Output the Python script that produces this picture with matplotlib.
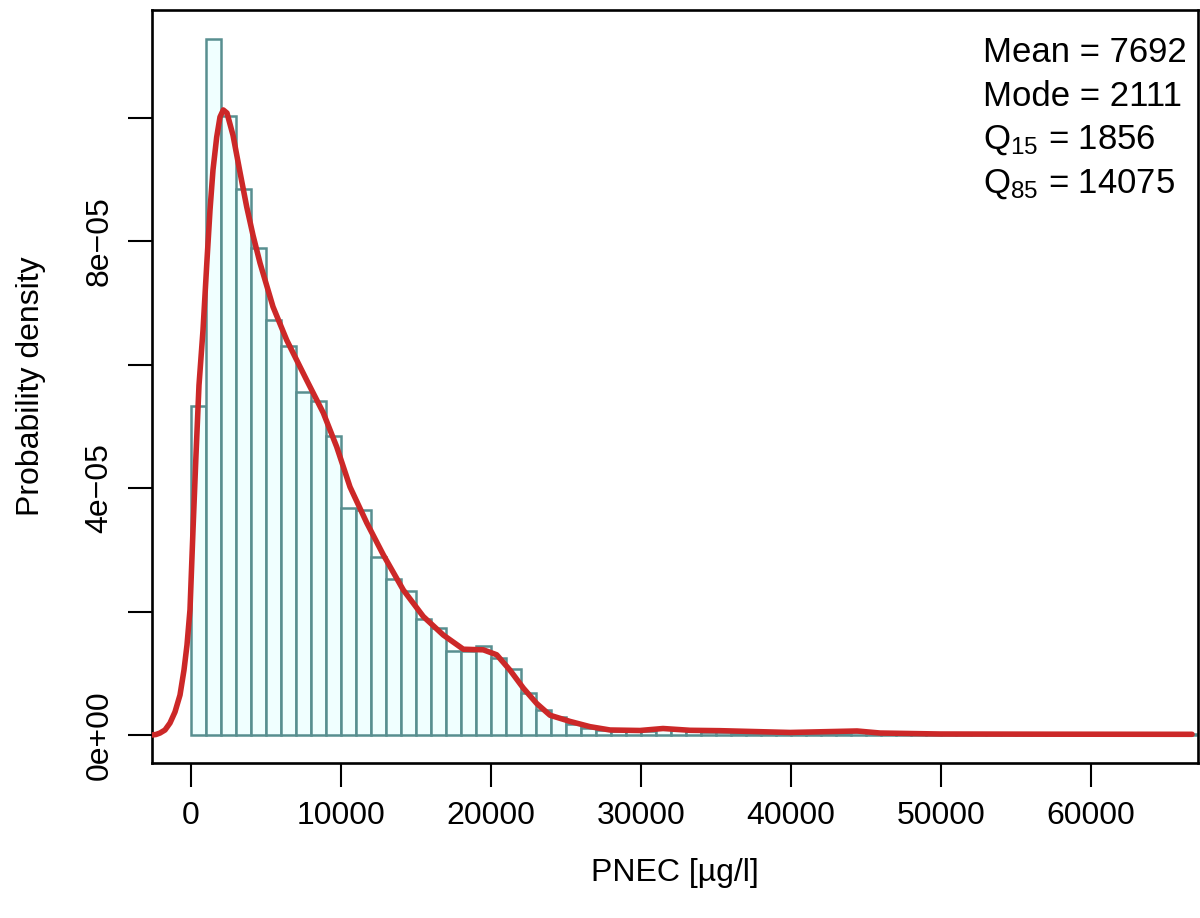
import numpy as np
import matplotlib
matplotlib.use("Agg")
import matplotlib.pyplot as plt

plt.rcParams['font.family'] = ['Liberation Sans', 'DejaVu Sans']
plt.rcParams['mathtext.fontset'] = 'custom'
plt.rcParams['mathtext.rm'] = 'Liberation Sans'
plt.rcParams['mathtext.it'] = 'Liberation Sans'

# ---- data ----
bin_width = 1000
bin_left = list(range(0, 67000, 1000))
hist_density = [
    5.33e-5, 1.128e-4, 1.003e-4, 8.85e-5, 7.89e-5, 6.73e-5, 6.30e-5, 5.56e-5,
    5.41e-5, 4.85e-5, 3.68e-5, 3.65e-5, 2.88e-5, 2.53e-5, 2.33e-5, 1.88e-5,
    1.73e-5, 1.36e-5, 1.36e-5, 1.44e-5, 1.25e-5, 1.07e-5, 6.8e-6, 4.1e-6,
    2.9e-6, 1.8e-6, 1.1e-6, 8e-7,
    6e-7, 6e-7, 7e-7, 9e-7, 8e-7, 6e-7, 5e-7, 5e-7,
    4e-7, 4e-7, 4e-7, 4e-7, 3e-7, 3e-7, 3e-7, 3e-7,
    5e-7, 5e-7,
    2e-7, 2e-7, 2e-7, 1.5e-7, 1.5e-7, 1.5e-7, 1.5e-7, 1.5e-7, 1e-7, 1e-7,
    1e-7, 1e-7, 1e-7, 1e-7, 1e-7, 1e-7, 1e-7, 1e-7, 1e-7, 1e-7, 1e-7,
]

kde_x = [-2600, -2333, -2067, -1733, -1400, -1067, -733, -467, -267, -67,
         133, 333, 533, 800, 1067, 1267, 1467, 1713, 1933, 2153, 2400, 2800,
         3267, 3713, 4133, 4600, 5467, 6380, 7713, 8820, 9713, 10600,
         11713, 12820, 14153, 15487, 16820, 18153, 19487, 20380, 21267, 22153,
         23047, 23933, 25267, 26600, 27933, 29933, 31467, 33267, 35267, 39933,
         44400, 45933, 49933, 57267, 66733]
kde_y = [0.0, 8e-8, 3.2e-7, 8.1e-7, 1.94e-6, 3.73e-6, 6.48e-6, 1.053e-5,
         1.459e-5, 2.03e-5, 3.32e-5, 4.54e-5, 5.67e-5, 6.56e-5, 7.70e-5,
         8.51e-5, 9.16e-5, 9.69e-5, 1.0016e-4, 1.013e-4, 1.008e-4, 9.72e-5,
         9.12e-5, 8.56e-5, 8.10e-5, 7.65e-5, 6.94e-5, 6.40e-5, 5.75e-5,
         5.22e-5, 4.67e-5, 4.02e-5, 3.44e-5, 2.92e-5, 2.35e-5, 1.92e-5,
         1.62e-5, 1.39e-5, 1.38e-5, 1.30e-5, 1.05e-5, 7.6e-6, 5.1e-6, 3.2e-6,
         2.2e-6, 1.35e-6, 8.1e-7, 7.3e-7, 1.05e-6, 7.6e-7, 7.0e-7, 4.1e-7,
         6.5e-7, 3.2e-7, 1.6e-7, 1.3e-7, 1.1e-7]

yticks = [0, 2e-5, 4e-5, 6e-5, 8e-5, 1e-4]
ytick_labels = ["0e+00", "", "4e\u221205", "", "8e\u221205", ""]
xticks = [0, 10000, 20000, 30000, 40000, 50000, 60000]
xtick_labels = ["0", "10000", "20000", "30000", "40000", "50000", "60000"]

sp = " = "
stats_lines = ["Mean" + sp + "7692", "Mode" + sp + "2111",
               r"$\mathregular{Q_{15}}$" + sp + "1856",
               r"$\mathregular{Q_{85}}$" + sp + "14075"]

# ---- plot ----
fig = plt.figure(figsize=(12, 9.18), dpi=100)
ax = fig.add_axes([152/1200, 1-763/918, (1198-152)/1200, (763-10)/918])

ax.bar(bin_left, hist_density, width=bin_width, align='edge',
       color='#f0ffff', edgecolor='#588f90', linewidth=1.8, zorder=2)
ax.plot(kde_x, kde_y, color='#cc2828', linewidth=4.0, solid_capstyle='round',
        solid_joinstyle='round', zorder=3)

ax.set_xlim(-2600, 67130)
ax.set_ylim(-4.54e-6, 1.175e-4)

for s in ax.spines.values():
    s.set_linewidth(1.9)

ax.set_xticks(xticks)
ax.set_xticklabels(xtick_labels, fontsize=23)
ax.set_yticks(yticks)
ax.set_yticklabels(ytick_labels, fontsize=23, rotation=90, va='center')
ax.tick_params(axis='both', direction='out', length=17, width=1.5, pad=10)

ax.set_xlabel("PNEC [\u00b5g/l]", fontsize=23, labelpad=20)
ax.set_ylabel("Probability density", fontsize=23, labelpad=28)

for i, line in enumerate(stats_lines):
    ax.text(983/1200, 1-(52+44*i)/918, line, transform=fig.transFigure,
            fontsize=25, ha='left', va='center')

fig.savefig("out.png", dpi=100)
